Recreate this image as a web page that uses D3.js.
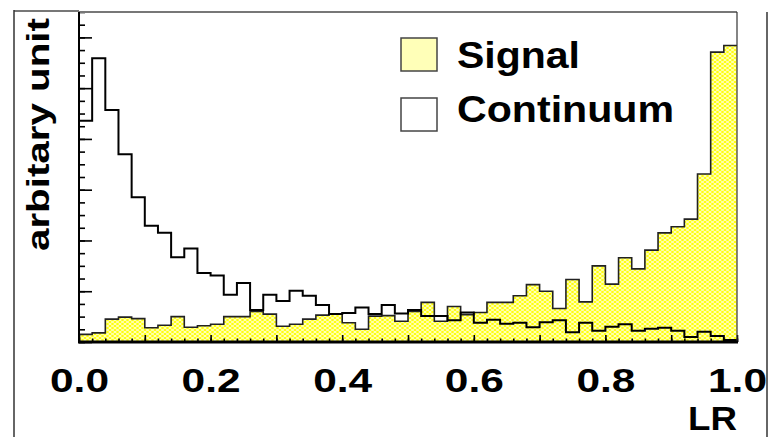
<!DOCTYPE html>
<html>
<head>
<meta charset="utf-8">
<script src="https://cdn.jsdelivr.net/npm/d3@7"></script>
<style>
  body { margin: 0; background: #fff; }
  svg { display: block; }
  text { font-family: "Liberation Sans", Arial, sans-serif; font-weight: bold; fill: #000; }
</style>
</head>
<body>
<div class="graphContainer"></div>
<script>
// histogram contents, 50 bins of width 0.02 on LR in [0,1]
const binWidth = 0.02;
const signal = [15, 18, 45, 49, 46, 28, 33, 50, 29, 32,
                35, 50, 50, 60, 55, 31, 35, 45, 53, 55,
                38, 25, 51, 52, 41, 60, 78, 41, 70, 54,
                58, 78, 78, 91, 113, 100, 66, 123, 79, 150,
                114, 166, 144, 181, 215, 227, 242, 331, 571, 584];
const continuum = [436, 559, 457, 370, 285, 229, 215, 167, 184, 136,
                   131, 93, 116, 63, 93, 81, 101, 91, 73, 55,
                   57, 68, 55, 73, 56, 63, 51, 51, 43, 58,
                   38, 44, 36, 38, 29, 39, 43, 19, 38, 22,
                   30, 35, 22, 26, 28, 22, 10, 20, 12, 4];
const xTickLabels = ["0.0", "0.2", "0.4", "0.6", "0.8", "1.0"];
const xTickValues = [0, 0.2, 0.4, 0.6, 0.8, 1.0];
const legendNames = ["Signal", "Continuum"];

// size and plot frame
const w = 769;
const h = 437;
const pLeft = 79, pRight = 737, pTop = 12, pBottom = 342;

const svg = d3.select(".graphContainer").append("svg")
    .attr("width", w)
    .attr("height", h);

// yellow fill with white mesh, like the ROOT hatch
const defs = svg.append("defs");
const pat = defs.append("pattern")
    .attr("id", "mesh")
    .attr("patternUnits", "userSpaceOnUse")
    .attr("width", 5)
    .attr("height", 4);
pat.append("rect").attr("width", 5).attr("height", 4).attr("fill", "#ffff10");
pat.append("path")
    .attr("d", "M0,0 L5,4 M5,0 L0,4")
    .attr("stroke", "#ffffff")
    .attr("stroke-width", 0.8)
    .attr("fill", "none");

const x = d3.scaleLinear().domain([0, 1]).range([pLeft, pRight]);
const y = d3.scaleLinear().domain([0, 650]).range([pBottom, pTop]);

// turn bin contents into step points
const toSteps = vals => {
    const pts = vals.map((v, i) => ({ x: i * binWidth, v: v }));
    pts.push({ x: vals.length * binWidth, v: vals[vals.length - 1] });
    return pts;
};

const area = d3.area()
    .curve(d3.curveStepAfter)
    .x(d => x(d.x))
    .y0(y(0))
    .y1(d => y(d.v));

const line = d3.line()
    .curve(d3.curveStepAfter)
    .x(d => x(d.x))
    .y(d => y(d.v));

// signal: filled
svg.append("path")
    .datum(toSteps(signal))
    .attr("d", area)
    .attr("fill", "url(#mesh)");
svg.append("path")
    .datum(toSteps(signal))
    .attr("d", line)
    .attr("fill", "none")
    .attr("stroke", "#222")
    .attr("stroke-width", 1.6);

// continuum: outline only
svg.append("path")
    .datum(toSteps(continuum))
    .attr("d", line)
    .attr("fill", "none")
    .attr("stroke", "#000")
    .attr("stroke-width", 2);

// y ticks (inside the frame, no labels)
const yMinor = d3.range(0, 651, 25);
const yMajor = d3.range(0, 651, 100);
svg.append("g")
    .attr("transform", "translate(" + pLeft + ",0)")
    .call(d3.axisRight(y).tickValues(yMinor).tickSize(6).tickFormat(""))
    .call(g => g.select(".domain").remove());
svg.append("g")
    .attr("transform", "translate(" + pLeft + ",0)")
    .call(d3.axisRight(y).tickValues(yMajor).tickSize(13).tickFormat(""))
    .call(g => g.select(".domain").remove());

// x ticks pointing up
const xMinor = d3.range(0, 1.0001, binWidth);
const xMajor = d3.range(0, 1.0001, 0.1);
svg.append("g")
    .attr("transform", "translate(0," + pBottom + ")")
    .call(d3.axisTop(x).tickValues(xMinor).tickSize(3.5).tickFormat(""))
    .call(g => g.select(".domain").remove());
svg.append("g")
    .attr("transform", "translate(0," + pBottom + ")")
    .call(d3.axisTop(x).tickValues(xMajor).tickSize(7).tickFormat(""))
    .call(g => g.select(".domain").remove());
svg.selectAll(".tick line").attr("stroke", "#000").attr("stroke-width", 1.6);

// plot frame
svg.append("line").attr("x1", pLeft).attr("x2", pRight).attr("y1", pTop).attr("y2", pTop)
    .attr("stroke", "#777").attr("stroke-width", 2.2);
svg.append("line").attr("x1", pRight).attr("x2", pRight).attr("y1", pTop).attr("y2", pBottom)
    .attr("stroke", "#333").attr("stroke-width", 1.2);
svg.append("line").attr("x1", pLeft).attr("x2", pLeft).attr("y1", pTop).attr("y2", pBottom)
    .attr("stroke", "#000").attr("stroke-width", 2);
svg.append("line").attr("x1", pLeft - 1).attr("x2", pRight + 1).attr("y1", pBottom).attr("y2", pBottom)
    .attr("stroke", "#000").attr("stroke-width", 3);

// outer frame
svg.append("line").attr("x1", 14).attr("x2", pLeft).attr("y1", 11).attr("y2", 11)
    .attr("stroke", "#777").attr("stroke-width", 2.2);
svg.append("line").attr("x1", 14).attr("x2", 14).attr("y1", 10).attr("y2", h)
    .attr("stroke", "#333").attr("stroke-width", 1.5);
svg.append("line").attr("x1", 767).attr("x2", 767).attr("y1", 12).attr("y2", h)
    .attr("stroke", "#333").attr("stroke-width", 1.5);

// x tick labels
svg.selectAll(".xlab")
    .data(xTickValues)
    .enter().append("text")
    .attr("class", "xlab")
    .attr("x", d => x(d) - 29)
    .attr("y", 392)
    .attr("font-size", 34)
    .attr("textLength", 59)
    .attr("lengthAdjust", "spacingAndGlyphs")
    .text((d, i) => xTickLabels[i]);

// axis titles
svg.append("text")
    .attr("x", 688)
    .attr("y", 430)
    .attr("font-size", 33)
    .attr("textLength", 49)
    .attr("lengthAdjust", "spacingAndGlyphs")
    .text("LR");

svg.append("text")
    .attr("transform", "translate(49,251) rotate(-90)")
    .attr("font-size", 31)
    .attr("textLength", 233)
    .attr("lengthAdjust", "spacingAndGlyphs")
    .text("arbitary unit");

// legend
const legend = svg.append("g");
const legendFill = ["#ffffb8", "#ffffff"];
const legendLen = [123, 217];
legendNames.forEach((name, i) => {
    legend.append("rect")
        .attr("x", 401)
        .attr("y", 38 + i * 60)
        .attr("width", 36)
        .attr("height", 33)
        .attr("fill", legendFill[i])
        .attr("stroke", "#444")
        .attr("stroke-width", 1.5);
    legend.append("text")
        .attr("x", 457)
        .attr("y", 68 + i * 54)
        .attr("font-size", 36)
        .attr("textLength", legendLen[i])
        .attr("lengthAdjust", "spacingAndGlyphs")
        .text(name);
});
</script>
</body>
</html>
